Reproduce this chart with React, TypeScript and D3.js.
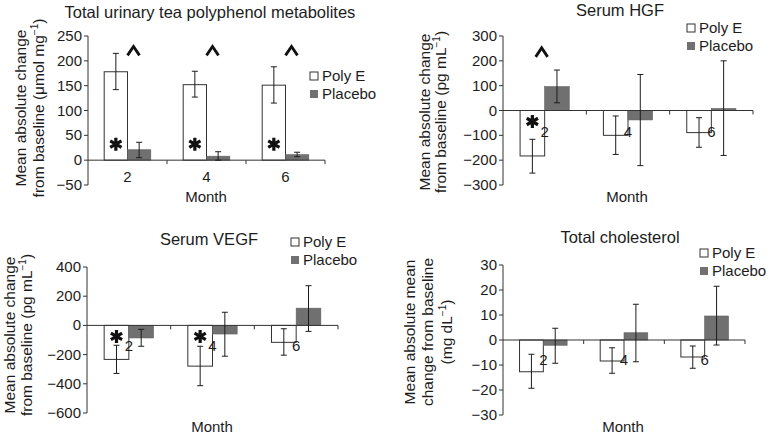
import React from 'react'
import * as d3 from 'd3'

// months on the x axis
const months = ['2', '4', '6']

// total urinary tea polyphenol metabolites
const teaPolyE = [178, 152, 151]
const teaPolyELo = [142, 127, 115]
const teaPolyEHi = [215, 179, 188]
const teaPlacebo = [21, 8, 11]
const teaPlaceboLo = [5, 0, 7]
const teaPlaceboHi = [36, 17, 16]
const teaTicks = [-50, 0, 50, 100, 150, 200, 250]
const teaStars = [0, 1, 2]
const teaCarets = [0, 1, 2]

// serum HGF
const hgfPolyE = [-183, -100, -89]
const hgfPolyELo = [-252, -177, -148]
const hgfPolyEHi = [-116, -22, -29]
const hgfPlacebo = [96, -38, 8]
const hgfPlaceboLo = [31, -222, -181]
const hgfPlaceboHi = [163, 145, 200]
const hgfTicks = [-300, -200, -100, 0, 100, 200, 300]
const hgfStars = [0]
const hgfCarets = [0]

// serum VEGF
const vegfPolyE = [-233, -279, -116]
const vegfPolyELo = [-329, -413, -204]
const vegfPolyEHi = [-136, -143, -23]
const vegfPlacebo = [-86, -59, 118]
const vegfPlaceboLo = [-143, -211, -41]
const vegfPlaceboHi = [-27, 90, 272]
const vegfTicks = [-600, -400, -200, 0, 200, 400]
const vegfStars = [0, 1]
const vegfCarets: number[] = []

// total cholesterol
const cholPolyE = [-12.7, -8.4, -6.8]
const cholPolyELo = [-19.3, -13.3, -11.3]
const cholPolyEHi = [-5.7, -3.1, -2.4]
const cholPlacebo = [-2.1, 2.9, 9.6]
const cholPlaceboLo = [-9.3, -8.7, -2]
const cholPlaceboHi = [4.7, 14.3, 21.5]
const cholTicks = [-30, -20, -10, 0, 10, 20, 30]
const cholStars: number[] = []
const cholCarets: number[] = []

const FONT = '"Liberation Sans", Arial, Helvetica, sans-serif'
const INK = '#1c1c1c'
const GREY = '#707070'

const fmt = (v: number) => (v < 0 ? '\u2212' + Math.abs(v) : String(v))

type Panel = {
  title: string
  ylab: [string, string, string][] // before, superscript, after
  polyE: number[]; polyELo: number[]; polyEHi: number[]
  placebo: number[]; placeboLo: number[]; placeboHi: number[]
  ticks: number[]
  stars: number[]
  carets: number[]
  caretVal: number
  // layout
  x0: number; x1: number; yTop: number; yBot: number
  titleX: number; titleY: number
  ylabX: number[]; ylabY: number
  monthX: number; monthY: number
  legX: number; legY: number
  catDy: number
  caretDx: number
}

const panels: Panel[] = [
  {
    title: 'Total urinary tea polyphenol metabolites',
    ylab: [['Mean absolute change', '', ''], ['from baseline (\u03bcmol mg', '\u22121', ')']],
    polyE: teaPolyE, polyELo: teaPolyELo, polyEHi: teaPolyEHi,
    placebo: teaPlacebo, placeboLo: teaPlaceboLo, placeboHi: teaPlaceboHi,
    ticks: teaTicks, stars: teaStars, carets: teaCarets, caretVal: 220,
    x0: 88, x1: 325, yTop: 36, yBot: 185,
    titleX: 210, titleY: 18, ylabX: [26, 44], ylabY: 108,
    monthX: 206, monthY: 202, legX: 310, legY: 72, catDy: 22, caretDx: 6,
  },
  {
    title: 'Serum HGF',
    ylab: [['Mean absolute change', '', ''], ['from baseline (pg mL', '\u22121', ')']],
    polyE: hgfPolyE, polyELo: hgfPolyELo, polyEHi: hgfPolyEHi,
    placebo: hgfPlacebo, placeboLo: hgfPlaceboLo, placeboHi: hgfPlaceboHi,
    ticks: hgfTicks, stars: hgfStars, carets: hgfCarets, caretVal: 234,
    x0: 503, x1: 753, yTop: 36, yBot: 185,
    titleX: 620, titleY: 16, ylabX: [430, 446], ylabY: 112,
    monthX: 627, monthY: 202, legX: 687, legY: 24, catDy: 26, caretDx: -3,
  },
  {
    title: 'Serum VEGF',
    ylab: [['Mean absolute change', '', ''], ['from baseline (pg mL', '\u22121', ')']],
    polyE: vegfPolyE, polyELo: vegfPolyELo, polyEHi: vegfPolyEHi,
    placebo: vegfPlacebo, placeboLo: vegfPlaceboLo, placeboHi: vegfPlaceboHi,
    ticks: vegfTicks, stars: vegfStars, carets: vegfCarets, caretVal: 0,
    x0: 87, x1: 338, yTop: 267, yBot: 413,
    titleX: 209, titleY: 245, ylabX: [15, 32], ylabY: 335,
    monthX: 212, monthY: 432, legX: 291, legY: 238, catDy: 26, caretDx: 0,
  },
  {
    title: 'Total cholesterol',
    ylab: [['Mean absolute mean', '', ''], ['change from baseline', '', ''], ['(mg dL', '\u22121', ')']],
    polyE: cholPolyE, polyELo: cholPolyELo, polyEHi: cholPolyEHi,
    placebo: cholPlacebo, placeboLo: cholPlaceboLo, placeboHi: cholPlaceboHi,
    ticks: cholTicks, stars: cholStars, carets: cholCarets, caretVal: 0,
    x0: 503, x1: 745, yTop: 265, yBot: 415,
    titleX: 620, titleY: 243, ylabX: [415, 433, 452], ylabY: 332,
    monthX: 623, monthY: 432, legX: 700, legY: 249, catDy: 25, caretDx: 0,
  },
]

function ErrorBar({ x, y1, y2 }: { x: number; y1: number; y2: number }) {
  return (
    <g stroke={INK} strokeWidth={1}>
      <line x1={x} x2={x} y1={y1} y2={y2} />
      <line x1={x - 3} x2={x + 3} y1={y1} y2={y1} />
      <line x1={x - 3} x2={x + 3} y1={y2} y2={y2} />
    </g>
  )
}

function ChartPanel({ p }: { p: Panel }) {
  const y = d3.scaleLinear().domain([p.ticks[0], p.ticks[p.ticks.length - 1]]).range([p.yBot, p.yTop])
  const x = d3.scaleBand<string>().domain(months).range([p.x0, p.x1]).padding(0)
  const bw = x.bandwidth() * 0.295
  const y0 = y(0)
  const center = (m: string) => (x(m) as number) + x.bandwidth() / 2

  const star = (cx: number, cy: number) => {
    const r = 6.5
    const arms = [90, 30, 150].map(a => {
      const dx = r * Math.cos((a * Math.PI) / 180)
      const dy = r * Math.sin((a * Math.PI) / 180)
      return `M${cx - dx},${cy + dy}L${cx + dx},${cy - dy}`
    })
    return <path d={arms.join('')} stroke="#111" strokeWidth={3.2} fill="none" />
  }

  return (
    <g fontFamily={FONT} fill={INK}>
      <text x={p.titleX} y={p.titleY} textAnchor="middle" fontSize={16.5}>{p.title}</text>

      {p.ylab.map((l, i) => (
        <text key={i} transform={`translate(${p.ylabX[i]},${p.ylabY}) rotate(-90)`} textAnchor="middle" fontSize={15.5}>
          {l[0]}
          {l[1] && <tspan dy={-6} fontSize={10}>{l[1]}</tspan>}
          {l[1] && <tspan dy={6}>{l[2]}</tspan>}
        </text>
      ))}

      {months.map((m, i) => {
        const cx = center(m)
        const ya = y(p.polyE[i])
        const yb = y(p.placebo[i])
        return (
          <g key={m}>
            <rect x={cx - bw} y={Math.min(ya, y0)} width={bw} height={Math.abs(ya - y0)} fill="#fff" stroke="#333" strokeWidth={1} />
            <rect x={cx} y={Math.min(yb, y0)} width={bw} height={Math.abs(yb - y0)} fill={GREY} stroke="#5e5e5e" strokeWidth={0.6} />
          </g>
        )
      })}

      {/* axes */}
      <g stroke="#333" strokeWidth={1} fill="none">
        <line x1={p.x0} x2={p.x0} y1={p.yTop} y2={p.yBot} />
        {p.ticks.map(t => (
          <line key={t} x1={p.x0 - 4} x2={p.x0} y1={y(t)} y2={y(t)} />
        ))}
        <line x1={p.x0} x2={p.x1} y1={y0} y2={y0} />
        {months.slice(1).map(m => (
          <line key={m} x1={x(m)} x2={x(m)} y1={y0} y2={y0 + 4} />
        ))}
        <line x1={p.x1} x2={p.x1} y1={y0} y2={y0 + 4} />
      </g>

      {months.map((m, i) => {
        const cx = center(m)
        return (
          <g key={m}>
            <ErrorBar x={cx - bw / 2} y1={y(p.polyELo[i])} y2={y(p.polyEHi[i])} />
            <ErrorBar x={cx + bw / 2} y1={y(p.placeboLo[i])} y2={y(p.placeboHi[i])} />
          </g>
        )
      })}

      {p.ticks.map(t => (
        <text key={t} x={p.x0 - 6} y={y(t) + 5} textAnchor="end" fontSize={15}>{fmt(t)}</text>
      ))}

      {months.map(m => (
        <text key={m} x={center(m)} y={y0 + p.catDy} textAnchor="middle" fontSize={15}>{m}</text>
      ))}

      <text x={p.monthX} y={p.monthY} textAnchor="middle" fontSize={15}>Month</text>

      {p.stars.map(i => {
        const cx = center(months[i]) - bw / 2
        const cy = p.polyE[i] >= 0 ? y0 - 16 : y0 + 11
        return <g key={i}>{star(cx, cy)}</g>
      })}

      {p.carets.map(i => {
        const cx = center(months[i]) + p.caretDx
        const cy = y(p.caretVal)
        return (
          <path key={i} d={`M${cx - 6},${cy + 4.5}L${cx},${cy - 4.5}L${cx + 6},${cy + 4.5}`}
            stroke="#111" strokeWidth={2.8} fill="none" />
        )
      })}

      {/* legend */}
      <rect x={p.legX} y={p.legY} width={8} height={8} fill="#fff" stroke="#333" strokeWidth={1} />
      <text x={p.legX + 12} y={p.legY + 9} fontSize={15}>Poly E</text>
      <rect x={p.legX} y={p.legY + 18} width={8} height={8} fill={GREY} />
      <text x={p.legX + 12} y={p.legY + 27} fontSize={15}>Placebo</text>
    </g>
  )
}

export default function App() {
  return (
    <svg width={771} height={435} style={{ position: 'absolute', left: 0, top: 0, background: '#fff' }}>
      {panels.map((p, i) => <ChartPanel key={i} p={p} />)}
    </svg>
  )
}
